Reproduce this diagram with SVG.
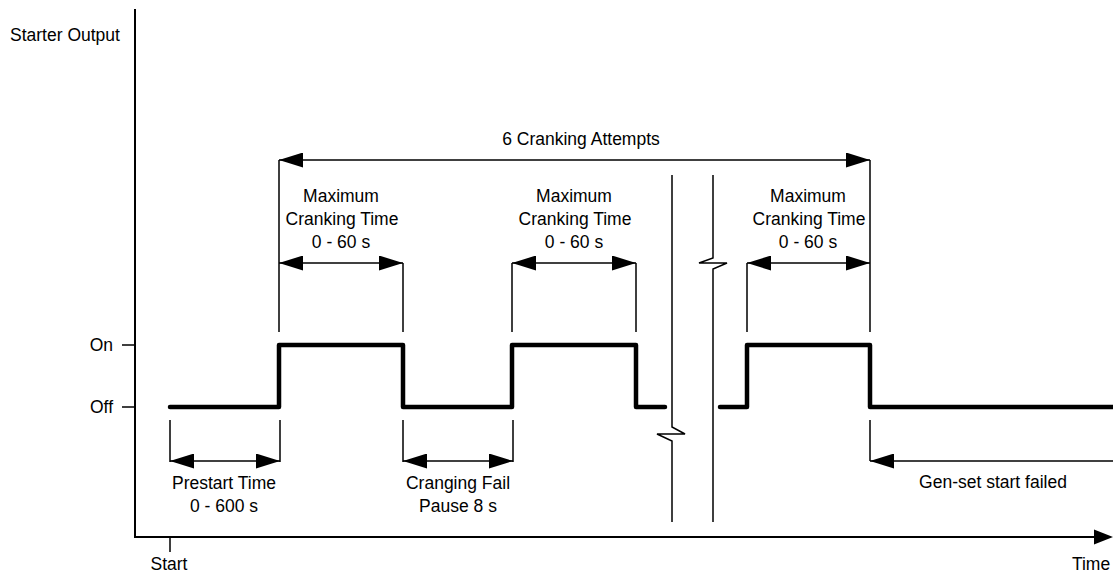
<svg xmlns="http://www.w3.org/2000/svg" width="1113" height="574" viewBox="0 0 1113 574">
<style>
text{font-family:"Liberation Sans",Arial,sans-serif;font-size:17.5px;fill:#000}
.c{text-anchor:middle}
.r{text-anchor:end}
.thin{stroke:#000;stroke-width:1.5;fill:none}
.dim{stroke:#000;stroke-width:1.5;fill:none;marker-start:url(#ah);marker-end:url(#ah)}
.sig{stroke:#000;stroke-width:4.5;fill:none;stroke-linecap:round;stroke-linejoin:round}
</style>
<defs>
<marker id="ah" markerUnits="userSpaceOnUse" markerWidth="24" markerHeight="15" refX="24" refY="7.5" orient="auto-start-reverse">
<path d="M0,0 L24,7.5 L0,15 Z" fill="#000"/>
</marker>
</defs>
<rect width="1113" height="574" fill="#fff"/>
<g id="axes">
<path class="thin" d="M135,9 V537 H1096" style="stroke-width:2"/>
<path d="M1094,529.5 L1113,537 L1094,544.5 Z" fill="#000"/>
<path class="thin" d="M122,345 H135 M122,407 H135 M170,537 V552"/>
</g>
<g id="labels">
<text x="10" y="41">Starter Output</text>
<text class="r" x="113" y="351">On</text>
<text class="r" x="113" y="413">Off</text>
<text class="c" x="169" y="570">Start</text>
<text class="c" x="1091" y="570">Time</text>
</g>
<g id="signal">
<path class="sig" d="M170,407 H279 V345 H403 V407 H512 V345 H636 V407 H665"/>
<path class="sig" d="M720,407 H747 V345 H870 V407 H1116"/>
</g>
<g id="breaks">
<path class="thin" d="M672,175 V427 L685,434 L657,434 L672,441 V522"/>
<path class="thin" d="M713,175 V258 L699,263 L727,263 L713,269 V522"/>
</g>
<g id="connectors">
<path class="thin" d="M279,160 V332 M870,160 V332 M403,263 V332 M512,263 V332 M636,263 V332 M747,263 V332"/>
<path class="dim" d="M279,160 H870"/>
<path class="dim" d="M279,263 H403"/>
<path class="dim" d="M512,263 H636"/>
<path class="dim" d="M747,263 H870"/>
<path class="thin" d="M170,420 V462 M280,420 V462 M403,420 V462 M513,420 V462 M870,420 V461"/>
<path class="dim" d="M170,461 H280"/>
<path class="dim" d="M403,461 H513"/>
<path class="thin" d="M1113,461 H870" style="marker-end:url(#ah)"/>
</g>
<g id="attempts-label">
<text class="c" x="581" y="145">6 Cranking Attempts</text>
</g>
<g id="crank1-label">
<text class="c" x="341" y="202">Maximum</text>
<text class="c" x="342" y="225">Cranking Time</text>
<text class="c" x="341" y="248">0 - 60 s</text>
</g>
<g id="crank2-label">
<text class="c" x="574" y="202">Maximum</text>
<text class="c" x="575" y="225">Cranking Time</text>
<text class="c" x="574" y="248">0 - 60 s</text>
</g>
<g id="crank3-label">
<text class="c" x="808" y="202">Maximum</text>
<text class="c" x="809" y="225">Cranking Time</text>
<text class="c" x="808" y="248">0 - 60 s</text>
</g>
<g id="prestart-label">
<text class="c" x="224" y="489">Prestart Time</text>
<text class="c" x="224" y="512">0 - 600 s</text>
</g>
<g id="pause-label">
<text class="c" x="458" y="489">Cranging Fail</text>
<text class="c" x="458" y="512">Pause 8 s</text>
</g>
<g id="failed-label">
<text class="c" x="993" y="488">Gen-set start failed</text>
</g>
</svg>
